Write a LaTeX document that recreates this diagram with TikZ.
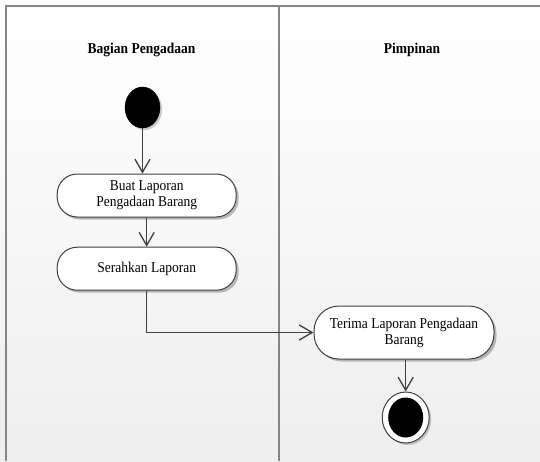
\documentclass[tikz,border=0pt]{standalone}
\usepackage{fontspec}
\setmainfont{Liberation Serif}[FakeStretch=0.9]
\usetikzlibrary{arrows.meta,shadows,shapes.geometric}

\definecolor{lanegray}{HTML}{858585}
\definecolor{flowgray}{HTML}{404040}
\definecolor{bgbottom}{HTML}{EEEEEE}

\tikzset{
  lane/.style={draw=lanegray, line width=1.8pt},
  head/.style={font=\fontsize{15}{16}\selectfont\bfseries, inner sep=0pt, anchor=base},
  action/.style={draw=flowgray, line width=1pt, fill=white, rounded corners=20pt,
    minimum width=179pt, minimum height=43pt, inner sep=0pt, align=center,
    font=\fontsize{15}{16}\selectfont,
    drop shadow={shadow xshift=2.5pt, shadow yshift=-2.5pt, opacity=0.25, fill=black}},
  startdot/.style={ellipse, fill=black, draw=black, minimum width=35pt, minimum height=41pt,
    inner sep=0pt,
    drop shadow={shadow xshift=2pt, shadow yshift=-2pt, opacity=0.2, fill=black}},
  endring/.style={ellipse, fill=white, draw=flowgray, line width=1pt,
    minimum width=47pt, minimum height=51pt, inner sep=0pt,
    drop shadow={shadow xshift=2pt, shadow yshift=-2pt, opacity=0.2, fill=black}},
  enddot/.style={ellipse, fill=black, minimum width=35pt, minimum height=40pt, inner sep=0pt},
  flow/.style={draw=flowgray, line width=1.3pt,
    -{Straight Barb[length=13pt, width=15pt]}},
}

\begin{document}
\begin{tikzpicture}[x=1pt, y=-1pt]
  % canvas and background shading
  \useasboundingbox (0,0) rectangle (540,461);
  \shade[top color=white, bottom color=bgbottom] (0,0) rectangle (540,461);

  % swimlane frame
  \draw[lane] (540,6) -- (6,6) -- (6,461);
  \draw[lane] (279,6) -- (279,461);

  % lane headers
  \node[head] (laneA) at (141.5,53) {Bagian Pengadaan};
  \node[head] (laneB) at (412,53) {Pimpinan};

  % activities
  \node[startdot] (start) at (142.5,107.5) {};
  \node[action] (buat) at (146.7,195.5) {Buat Laporan\\Pengadaan Barang};
  \node[action] (serah) at (146.7,268.7) {Serahkan Laporan};
  \node[action, minimum width=180pt, minimum height=53pt, rounded corners=25pt]
    (terima) at (404,332.5) {Terima Laporan Pengadaan\\Barang};
  \node[endring] (endo) at (405.7,417.5) {};
  \node[enddot] (endi) at (endo.center) {};

  % control flow
  \draw[flow] (start.south) -- (start.south |- buat.north);
  \draw[flow] (buat) -- (serah);
  \draw[flow] (serah.south) |- (terima.west);
  \draw[flow] (terima.south -| endo.north) -- (endo.north);
\end{tikzpicture}
\end{document}
